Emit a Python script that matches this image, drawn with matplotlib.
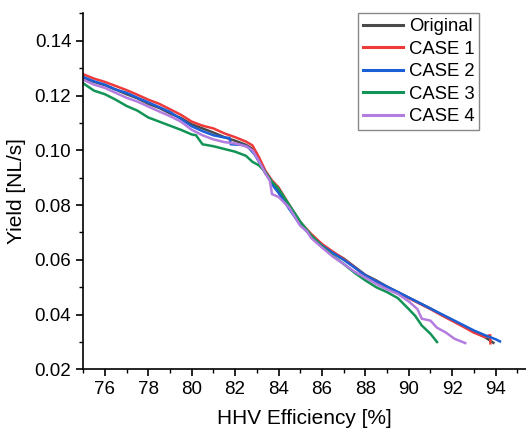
import matplotlib.pyplot as plt
from matplotlib.ticker import MultipleLocator

plt.rcParams['font.family'] = ['Liberation Sans', 'DejaVu Sans']

# efficiency [%] and yield [NL/s]
x_orig = [75, 75.5, 76, 76.5, 77, 77.5, 78, 78.5, 79, 79.5, 80, 80.5, 81, 81.5, 82, 82.5,
          82.8, 83.1, 83.4, 83.7, 84, 84.5, 85, 85.5, 86, 86.5, 87, 87.5, 88, 88.5, 89,
          89.5, 90, 90.5, 91, 91.5, 92, 92.5, 93, 93.5, 93.9]
y_orig = [0.1265, 0.1250, 0.1238, 0.1222, 0.1205, 0.1190, 0.1170, 0.1155, 0.1135, 0.1118,
          0.1095, 0.1080, 0.1065, 0.1048, 0.1035, 0.1020, 0.1005, 0.0960, 0.0915, 0.0885,
          0.0850, 0.0790, 0.0730, 0.0690, 0.0655, 0.0628, 0.0605, 0.0575, 0.0545, 0.0525,
          0.0502, 0.0482, 0.0462, 0.0442, 0.0422, 0.0400, 0.0380, 0.0360, 0.0338, 0.0318, 0.0297]

x_case1 = [75, 75.5, 76, 76.5, 77, 77.5, 78, 78.5, 79, 79.5, 80, 80.5, 81, 81.5, 82, 82.5,
           82.8, 83.1, 83.4, 83.7, 84, 84.5, 85, 85.5, 86, 86.5, 87, 87.5, 88, 88.5, 89,
           89.5, 90, 90.5, 91, 91.5, 92, 92.5, 93, 93.5, 93.75, 93.76]
y_case1 = [0.1278, 0.1262, 0.1250, 0.1235, 0.1220, 0.1203, 0.1185, 0.1170, 0.1150, 0.1130,
           0.1105, 0.1090, 0.1080, 0.1062, 0.1048, 0.1032, 0.1018, 0.0975, 0.0925, 0.0890,
           0.0865, 0.0800, 0.0738, 0.0695, 0.0658, 0.0630, 0.0603, 0.0573, 0.0542, 0.0522,
           0.0500, 0.0480, 0.0460, 0.0440, 0.0420, 0.0398, 0.0377, 0.0356, 0.0334, 0.0318,
           0.0325, 0.0295]

x_case2 = [75, 75.5, 76, 76.5, 77, 77.5, 78, 78.5, 79, 79.5, 80, 80.5, 81, 81.5, 81.75, 81.8,
           82.3, 82.6, 82.9, 83.2, 83.5, 83.8, 84, 84.5, 85, 85.5, 86, 86.5, 87, 87.5, 88,
           88.5, 89, 89.5, 90, 90.5, 91, 91.5, 92, 92.5, 93, 93.5, 94, 94.2]
y_case2 = [0.1268, 0.1252, 0.1240, 0.1222, 0.1210, 0.1192, 0.1175, 0.1158, 0.1140, 0.1115,
           0.1088, 0.1070, 0.1055, 0.1047, 0.1045, 0.1022, 0.1020, 0.1012, 0.0985, 0.0945,
           0.0905, 0.0865, 0.0845, 0.0785, 0.0728, 0.0688, 0.0652, 0.0625, 0.0600, 0.0572,
           0.0543, 0.0522, 0.0502, 0.0482, 0.0462, 0.0442, 0.0422, 0.0402, 0.0382, 0.0362,
           0.0342, 0.0325, 0.0310, 0.0302]

x_case3 = [75, 75.5, 76, 76.5, 77, 77.5, 78, 78.5, 79, 79.5, 80, 80.2, 80.5, 81, 81.5, 82,
           82.5, 82.8, 83.1, 83.4, 83.7, 84, 84.5, 85, 85.5, 86, 86.5, 87, 87.5, 88, 88.5,
           89, 89.5, 90, 90.3, 90.6, 91.0, 91.3]
y_case3 = [0.1245, 0.1218, 0.1205, 0.1185, 0.1162, 0.1145, 0.1120, 0.1105, 0.1090, 0.1075,
           0.1058, 0.1055, 0.1022, 0.1015, 0.1005, 0.0995, 0.0980, 0.0958, 0.0945, 0.0920,
           0.0885, 0.0860, 0.0800, 0.0740, 0.0690, 0.0650, 0.0615, 0.0585, 0.0553, 0.0525,
           0.0500, 0.0482, 0.0460, 0.0420, 0.0395, 0.0360, 0.0330, 0.0300]

x_case4 = [75, 75.5, 76, 76.5, 77, 77.5, 78, 78.5, 79, 79.5, 80, 80.5, 81, 81.5, 82, 82.5,
           82.8, 83.1, 83.4, 83.6, 83.7, 84, 84.5, 85, 85.3, 85.5, 86, 86.5, 87, 87.5, 88,
           88.5, 89, 89.5, 90, 90.4, 90.6, 91.0, 91.3, 91.7, 92.1, 92.6]
y_case4 = [0.1258, 0.1240, 0.1228, 0.1210, 0.1192, 0.1178, 0.1160, 0.1142, 0.1125, 0.1105,
           0.1075, 0.1055, 0.1040, 0.1030, 0.1025, 0.1015, 0.1000, 0.0960, 0.0915, 0.0890,
           0.0840, 0.0830, 0.0790, 0.0725, 0.0705, 0.0680, 0.0645, 0.0612, 0.0585, 0.0557,
           0.0535, 0.0512, 0.0492, 0.0475, 0.0448, 0.0420, 0.0385, 0.0378, 0.0352, 0.0335,
           0.0312, 0.0296]

series = [
    ('Original', x_orig, y_orig, '#4a4a4a'),
    ('CASE 1', x_case1, y_case1, '#ef3a3a'),
    ('CASE 2', x_case2, y_case2, '#1a5fd6'),
    ('CASE 3', x_case3, y_case3, '#139457'),
    ('CASE 4', x_case4, y_case4, '#b37ddf'),
]

fig = plt.figure(figsize=(5.26, 4.33), dpi=100)
ax = fig.add_axes([0.158, 0.147, 0.842, 0.822])

for name, xs, ys, col in series:
    ax.plot(xs, ys, color=col, lw=1.8, label=name)

ax.set_xlim(75, 95.4)
ax.set_ylim(0.02, 0.15)
ax.xaxis.set_major_locator(MultipleLocator(2))
ax.xaxis.set_minor_locator(MultipleLocator(1))
ax.yaxis.set_minor_locator(MultipleLocator(0.01))
ax.set_yticks([0.02, 0.04, 0.06, 0.08, 0.10, 0.12, 0.14])
ax.set_yticklabels(['0.02', '0.04', '0.06', '0.08', '0.10', '0.12', '0.14'])
ax.tick_params(which='major', direction='out', length=5, width=1.2, labelsize=13.5)
ax.tick_params(which='minor', direction='out', length=3, width=1.0)

ax.spines['top'].set_visible(False)
ax.spines['right'].set_visible(False)
ax.spines['left'].set_linewidth(1.2)
ax.spines['bottom'].set_linewidth(1.2)

ax.set_xlabel('HHV Efficiency [%]', fontsize=15, labelpad=8)
ax.set_ylabel('Yield [NL/s]', fontsize=15, labelpad=6)

leg = ax.legend(loc='upper right', bbox_to_anchor=(0.894, 1.0), borderaxespad=0,
                fontsize=13.3, fancybox=False, edgecolor='#888888', framealpha=1,
                handlelength=2.2, handletextpad=0.3, labelspacing=0.3, borderpad=0.25)
leg.get_frame().set_linewidth(1.0)
for line in leg.get_lines():
    line.set_linewidth(2.2)

fig.savefig('out.png', dpi=100)
